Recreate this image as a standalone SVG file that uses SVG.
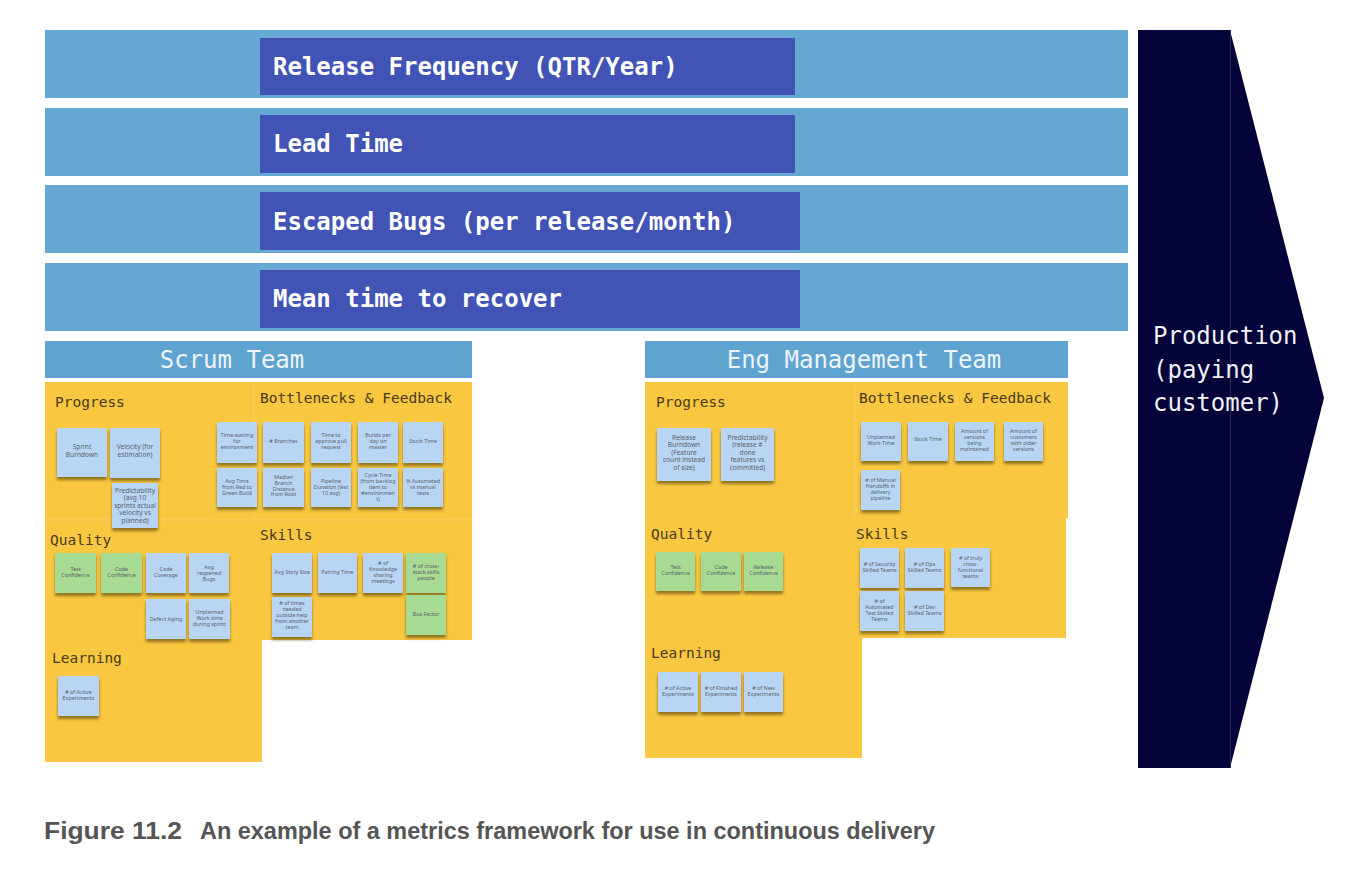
<svg xmlns="http://www.w3.org/2000/svg" width="1358" height="870" viewBox="0 0 1358 870">
<defs>
<filter id="sh" x="-20%" y="-20%" width="140%" height="150%">
<feDropShadow dx="0" dy="3" stdDeviation="1.6" flood-color="#3a3000" flood-opacity="0.55"/>
</filter>
</defs>
<style>
.band{fill:#67a7d3}
.inner{fill:#4253b6}
.btxt{font-family:"DejaVu Sans Mono",monospace;font-weight:bold;font-size:24px;fill:#ffffff}
.hdr{fill:#5fa3d1}
.htxt{font-family:"DejaVu Sans Mono",monospace;font-size:24px;fill:#eef4fa;text-anchor:middle}
.yel{fill:#f9c740}
.sec{font-family:"DejaVu Sans Mono",monospace;font-size:14.5px;fill:#4a3a1e}
.b{fill:#b8d6f3;filter:url(#sh)}
.g{fill:#a7da93;filter:url(#sh)}
.t{font-family:"Noto Sans","Liberation Sans",sans-serif;font-size:5.4px;fill:#5b5e6e;text-anchor:middle}
.tl{font-family:"Noto Sans","Liberation Sans",sans-serif;font-size:6.6px;fill:#5b5e6e;text-anchor:middle}
.prod{fill:#03033a}
.ptxt{font-family:"DejaVu Sans Mono",monospace;font-size:24px;fill:#eef0f6}
.cap{font-family:"Liberation Sans",Arial,sans-serif;font-weight:bold;font-size:23px;fill:#555555}
</style>
<rect width="1358" height="870" fill="#ffffff"/>

<g id="metric-release-frequency">
<rect class="band" x="45" y="30" width="1083" height="68"/>
<rect class="inner" x="260" y="38" width="535" height="57"/>
<text class="btxt" x="273" y="75">Release Frequency (QTR/Year)</text>
</g>
<g id="metric-lead-time">
<rect class="band" x="45" y="108" width="1083" height="68"/>
<rect class="inner" x="260" y="115" width="535" height="58"/>
<text class="btxt" x="273" y="152">Lead Time</text>
</g>
<g id="metric-escaped-bugs">
<rect class="band" x="45" y="185" width="1083" height="68"/>
<rect class="inner" x="260" y="192" width="540" height="58"/>
<text class="btxt" x="273" y="230">Escaped Bugs (per release/month)</text>
</g>
<g id="metric-mttr">
<rect class="band" x="45" y="263" width="1083" height="68"/>
<rect class="inner" x="260" y="270" width="540" height="58"/>
<text class="btxt" x="273" y="307">Mean time to recover</text>
</g>

<g id="production">
<rect class="prod" x="1138" y="30" width="93" height="738"/>
<polygon class="prod" points="1230,30 1324,398 1230,768"/>
<line x1="1230.5" y1="30" x2="1230.5" y2="768" stroke="#2a2a5a" stroke-width="1"/>
<text class="ptxt" x="1153" y="344">Production</text>
<text class="ptxt" x="1153" y="378">(paying</text>
<text class="ptxt" x="1153" y="411">customer)</text>
</g>

<g id="scrum-team">
<rect class="hdr" x="45" y="341" width="427" height="37"/>
<text class="htxt" x="232" y="368">Scrum Team</text>
<rect class="yel" x="45" y="382" width="427" height="258"/>
<rect class="yel" x="45" y="640" width="217" height="122"/>
<line x1="254" y1="383" x2="254" y2="520" stroke="#fad067" stroke-width="1"/>
<line x1="45" y1="520" x2="472" y2="520" stroke="#fad067" stroke-width="1"/>
<text class="sec" x="55" y="407">Progress</text>
<text class="sec" x="260" y="403">Bottlenecks &amp; Feedback</text>
<text class="sec" x="50" y="545">Quality</text>
<text class="sec" x="260" y="540">Skills</text>
<text class="sec" x="52" y="663">Learning</text>
</g>

<g id="scrum-progress-notes">
<rect class="b" x="57" y="428" width="50" height="49"/>
<text class="tl" x="82" y="449"><tspan x="82">Sprint</tspan><tspan x="82" dy="7.6">Burndown</tspan></text>
<rect class="b" x="110" y="428" width="50" height="50"/>
<text class="tl" x="135" y="449"><tspan x="135">Velocity (for</tspan><tspan x="135" dy="7.6">estimation)</tspan></text>
<rect class="b" x="112" y="483" width="46" height="45"/>
<text class="tl" x="135" y="493"><tspan x="135">Predictability</tspan><tspan x="135" dy="7.4">(avg 10</tspan><tspan x="135" dy="7.4">sprints actual</tspan><tspan x="135" dy="7.4">velocity vs</tspan><tspan x="135" dy="7.4">planned)</tspan></text>
</g>

<g id="scrum-bottleneck-notes">
<rect class="b" x="217" y="422" width="40" height="41"/>
<text class="t" x="237" y="437"><tspan x="237">Time waiting</tspan><tspan x="237" dy="6">for</tspan><tspan x="237" dy="6">environment</tspan></text>
<rect class="b" x="263" y="422" width="41" height="41"/>
<text class="t" x="283.5" y="443"># Branches</text>
<rect class="b" x="311" y="422" width="40" height="41"/>
<text class="t" x="331" y="437"><tspan x="331">Time to</tspan><tspan x="331" dy="6">approve pull</tspan><tspan x="331" dy="6">request</tspan></text>
<rect class="b" x="358" y="422" width="40" height="41"/>
<text class="t" x="378" y="437"><tspan x="378">Builds per</tspan><tspan x="378" dy="6">day on</tspan><tspan x="378" dy="6">master</tspan></text>
<rect class="b" x="403" y="422" width="40" height="41"/>
<text class="t" x="423" y="443">Stuck Time</text>
<rect class="b" x="217" y="468" width="40" height="39"/>
<text class="t" x="237" y="483"><tspan x="237">Avg Time</tspan><tspan x="237" dy="6">from Red to</tspan><tspan x="237" dy="6">Green Build</tspan></text>
<rect class="b" x="263" y="468" width="41" height="39"/>
<text class="t" x="283.5" y="479"><tspan x="283.5">Median</tspan><tspan x="283.5" dy="5.8">Branch</tspan><tspan x="283.5" dy="5.8">Distance</tspan><tspan x="283.5" dy="5.8">from Root</tspan></text>
<rect class="b" x="311" y="468" width="40" height="39"/>
<text class="t" x="331" y="483"><tspan x="331">Pipeline</tspan><tspan x="331" dy="6">Duration (last</tspan><tspan x="331" dy="6">10 avg)</tspan></text>
<rect class="b" x="358" y="468" width="40" height="39"/>
<text class="t" x="378" y="477"><tspan x="378">Cycle Time</tspan><tspan x="378" dy="6">(from backlog</tspan><tspan x="378" dy="6">item to</tspan><tspan x="378" dy="6">#environmen</tspan><tspan x="378" dy="6">t)</tspan></text>
<rect class="b" x="403" y="468" width="40" height="39"/>
<text class="t" x="423" y="483"><tspan x="423">% Automated</tspan><tspan x="423" dy="6">vs manual</tspan><tspan x="423" dy="6">tests</tspan></text>
</g>

<g id="scrum-quality-notes">
<rect class="g" x="55" y="553" width="41" height="40"/>
<text class="t" x="75.5" y="571"><tspan x="75.5">Test</tspan><tspan x="75.5" dy="6">Confidence</tspan></text>
<rect class="g" x="101" y="553" width="41" height="40"/>
<text class="t" x="121.5" y="571"><tspan x="121.5">Code</tspan><tspan x="121.5" dy="6">Confidence</tspan></text>
<rect class="b" x="146" y="553" width="40" height="40"/>
<text class="t" x="166" y="571"><tspan x="166">Code</tspan><tspan x="166" dy="6">Coverage</tspan></text>
<rect class="b" x="189" y="553" width="40" height="40"/>
<text class="t" x="209" y="569"><tspan x="209">Avg</tspan><tspan x="209" dy="6">reopened</tspan><tspan x="209" dy="6">Bugs</tspan></text>
<rect class="b" x="146" y="599" width="40" height="40"/>
<text class="t" x="166" y="621">Defect Aging</text>
<rect class="b" x="189" y="599" width="41" height="40"/>
<text class="t" x="209.5" y="614"><tspan x="209.5">Unplanned</tspan><tspan x="209.5" dy="6">Work time</tspan><tspan x="209.5" dy="6">during sprint</tspan></text>
</g>

<g id="scrum-skills-notes">
<rect class="b" x="272" y="553" width="40" height="40"/>
<text class="t" x="292" y="574">Avg Story Size</text>
<rect class="b" x="318" y="553" width="39" height="40"/>
<text class="t" x="337.5" y="574">Pairing Time</text>
<rect class="b" x="363" y="553" width="40" height="40"/>
<text class="t" x="383" y="565"><tspan x="383"># of</tspan><tspan x="383" dy="6">Knowledge</tspan><tspan x="383" dy="6">sharing</tspan><tspan x="383" dy="6">meetings</tspan></text>
<rect class="g" x="406" y="553" width="40" height="40"/>
<text class="t" x="426" y="568"><tspan x="426"># of cross-</tspan><tspan x="426" dy="6">stack skills</tspan><tspan x="426" dy="6">people</tspan></text>
<rect class="b" x="272" y="597" width="40" height="40"/>
<text class="t" x="292" y="605"><tspan x="292"># of times</tspan><tspan x="292" dy="6">needed</tspan><tspan x="292" dy="6">outside help</tspan><tspan x="292" dy="6">from another</tspan><tspan x="292" dy="6">team</tspan></text>
<rect class="g" x="406" y="595" width="40" height="40"/>
<text class="t" x="426" y="616">Bus Factor</text>
</g>

<g id="scrum-learning-notes">
<rect class="b" x="58" y="676" width="41" height="40"/>
<text class="t" x="78.5" y="694"><tspan x="78.5"># of Active</tspan><tspan x="78.5" dy="6">Experiments</tspan></text>
</g>

<g id="eng-management-team">
<rect class="hdr" x="645" y="341" width="423" height="37"/>
<text class="htxt" x="864" y="368">Eng Management Team</text>
<rect class="yel" x="645" y="382" width="423" height="256"/>
<rect class="yel" x="645" y="638" width="217" height="120"/>
<line x1="855" y1="383" x2="855" y2="518" stroke="#fad067" stroke-width="1"/>
<line x1="1067" y1="518" x2="1067" y2="638" stroke="#ffffff" stroke-width="2"/>
<text class="sec" x="656" y="407">Progress</text>
<text class="sec" x="859" y="403">Bottlenecks &amp; Feedback</text>
<text class="sec" x="651" y="539">Quality</text>
<text class="sec" x="856" y="539">Skills</text>
<text class="sec" x="651" y="658">Learning</text>
</g>

<g id="eng-progress-notes">
<rect class="b" x="657" y="428" width="54" height="53"/>
<text class="tl" x="684" y="439.5"><tspan x="684">Release</tspan><tspan x="684" dy="7.6">Burndown</tspan><tspan x="684" dy="7.6">(Feature</tspan><tspan x="684" dy="7.6">count instead</tspan><tspan x="684" dy="7.6">of size)</tspan></text>
<rect class="b" x="721" y="428" width="53" height="53"/>
<text class="tl" x="747.5" y="439.5"><tspan x="747.5">Predictability</tspan><tspan x="747.5" dy="7.6">(release #</tspan><tspan x="747.5" dy="7.6">done</tspan><tspan x="747.5" dy="7.6">features vs</tspan><tspan x="747.5" dy="7.6">committed)</tspan></text>
</g>

<g id="eng-bottleneck-notes">
<rect class="b" x="861" y="422" width="40" height="39"/>
<text class="t" x="881" y="439"><tspan x="881">Unplanned</tspan><tspan x="881" dy="6">Work Time</tspan></text>
<rect class="b" x="908" y="422" width="40" height="39"/>
<text class="t" x="928" y="441">Stuck Time</text>
<rect class="b" x="955" y="422" width="39" height="39"/>
<text class="t" x="974.5" y="433"><tspan x="974.5">Amount of</tspan><tspan x="974.5" dy="6">versions</tspan><tspan x="974.5" dy="6">being</tspan><tspan x="974.5" dy="6">maintained</tspan></text>
<rect class="b" x="1004" y="422" width="39" height="39"/>
<text class="t" x="1023.5" y="433"><tspan x="1023.5">Amount of</tspan><tspan x="1023.5" dy="6">customers</tspan><tspan x="1023.5" dy="6">with older</tspan><tspan x="1023.5" dy="6">versions</tspan></text>
<rect class="b" x="861" y="470" width="39" height="40"/>
<text class="t" x="880.5" y="482"><tspan x="880.5"># of Manual</tspan><tspan x="880.5" dy="6">Handoffs in</tspan><tspan x="880.5" dy="6">delivery</tspan><tspan x="880.5" dy="6">pipeline</tspan></text>
</g>

<g id="eng-quality-notes">
<rect class="g" x="656" y="552" width="39" height="39"/>
<text class="t" x="675.5" y="569"><tspan x="675.5">Test</tspan><tspan x="675.5" dy="6">Confidence</tspan></text>
<rect class="g" x="701" y="552" width="40" height="39"/>
<text class="t" x="721" y="569"><tspan x="721">Code</tspan><tspan x="721" dy="6">Confidence</tspan></text>
<rect class="g" x="744" y="552" width="39" height="39"/>
<text class="t" x="763.5" y="569"><tspan x="763.5">Release</tspan><tspan x="763.5" dy="6">Confidence</tspan></text>
</g>

<g id="eng-skills-notes">
<rect class="b" x="860" y="548" width="39" height="40"/>
<text class="t" x="879.5" y="566"><tspan x="879.5"># of Security</tspan><tspan x="879.5" dy="6">Skilled Teams</tspan></text>
<rect class="b" x="905" y="548" width="39" height="40"/>
<text class="t" x="924.5" y="566"><tspan x="924.5"># of Ops</tspan><tspan x="924.5" dy="6">Skilled Teams</tspan></text>
<rect class="b" x="951" y="548" width="39" height="39"/>
<text class="t" x="970.5" y="560"><tspan x="970.5"># of truly</tspan><tspan x="970.5" dy="6">cross-</tspan><tspan x="970.5" dy="6">functional</tspan><tspan x="970.5" dy="6">teams</tspan></text>
<rect class="b" x="860" y="591" width="39" height="40"/>
<text class="t" x="879.5" y="603"><tspan x="879.5"># of</tspan><tspan x="879.5" dy="6">Automated</tspan><tspan x="879.5" dy="6">Test Skilled</tspan><tspan x="879.5" dy="6">Teams</tspan></text>
<rect class="b" x="905" y="591" width="39" height="40"/>
<text class="t" x="924.5" y="609"><tspan x="924.5"># of Dev</tspan><tspan x="924.5" dy="6">Skilled Teams</tspan></text>
</g>

<g id="eng-learning-notes">
<rect class="b" x="658" y="672" width="40" height="40"/>
<text class="t" x="678" y="690"><tspan x="678"># of Active</tspan><tspan x="678" dy="6">Experiments</tspan></text>
<rect class="b" x="701" y="672" width="40" height="40"/>
<text class="t" x="721" y="690"><tspan x="721"># of Finished</tspan><tspan x="721" dy="6">Experiments</tspan></text>
<rect class="b" x="744" y="672" width="39" height="40"/>
<text class="t" x="763.5" y="690"><tspan x="763.5"># of New</tspan><tspan x="763.5" dy="6">Experiments</tspan></text>
</g>

<g id="caption">
<text class="cap" x="44" y="839" textLength="138" lengthAdjust="spacingAndGlyphs">Figure 11.2</text>
<text class="cap" x="200" y="839" textLength="735" lengthAdjust="spacingAndGlyphs">An example of a metrics framework for use in continuous delivery</text>
</g>
</svg>
